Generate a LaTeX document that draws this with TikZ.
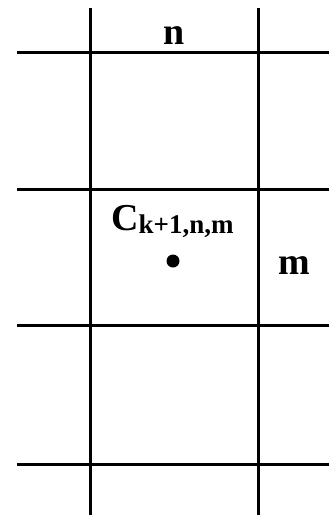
\documentclass[tikz,border=0pt]{standalone}
\usepackage{fontspec}
\setmainfont{Liberation Serif}
\usepackage{tikz}
\usetikzlibrary{positioning}

\tikzset{
    gridline/.style={line width=3pt, line cap=butt},
    lbl/.style={inner sep=0pt, font=\fontsize{38}{40}\selectfont\bfseries}
}

\begin{document}
\begin{tikzpicture}[x=1pt, y=-1pt]

    \useasboundingbox (0,0) rectangle (329,515);

    % Vertical grid lines
    \foreach \x/\name in {90/vl, 258/vr}{
        \coordinate (\name top) at (\x,8);
        \coordinate (\name bot) at (\x,515);
        \draw[gridline] (\name top) -- (\name bot);
    }

    % Horizontal grid lines
    \foreach \y/\name in {
        52/ha,
        189/hb,
        325/hc,
        464/hd
    }{
        \coordinate (\name left) at (17,\y);
        \coordinate (\name right) at (329,\y);
        \draw[gridline] (\name left) -- (\name right);
    }

    % Index labels
    \node[lbl, anchor=base] (nlabel) at (174,44) {n};
    \node[lbl, anchor=base] (mlabel) at (294,274) {m};

    % Cell value and its point
    \node[lbl, anchor=base west] (clabel) at (111,230)
        {C\raisebox{-0.2ex}{\fontsize{27}{28}\selectfont\bfseries k+1,n,m}};
    \fill (173,261) circle (6.5);

\end{tikzpicture}
\end{document}
